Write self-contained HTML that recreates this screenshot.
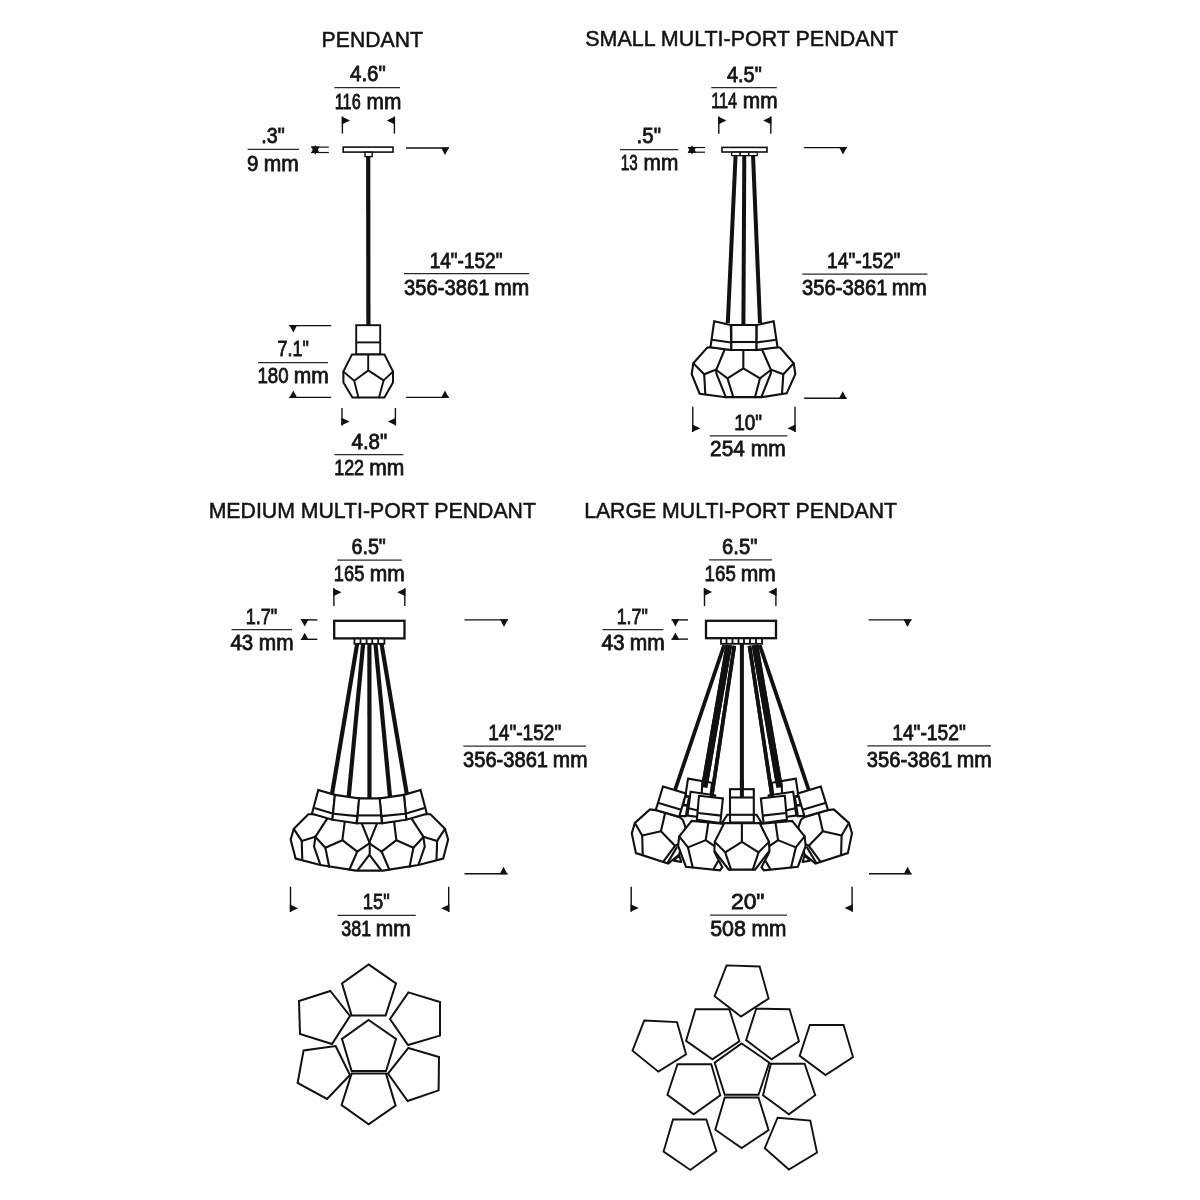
<!DOCTYPE html>
<html><head><meta charset="utf-8"><title>Pendant dimensions</title>
<style>
html,body{margin:0;padding:0;background:#fff;}
body{width:1200px;height:1200px;overflow:hidden;font-family:"Liberation Sans",sans-serif;}
svg{display:block}
text{font-family:"Liberation Sans",sans-serif;fill:#141414;}
text.d{stroke:#141414;stroke-width:.8px;}
text.t{stroke:#141414;stroke-width:.5px;}
</style></head><body>
<svg width="1200" height="1200" viewBox="0 0 1200 1200">
<rect width="1200" height="1200" fill="#fff"/>
<line x1="334.40" y1="87.60" x2="400.00" y2="87.60" stroke="#2a2a2a" stroke-width="1.25"/>
<line x1="247.60" y1="149.40" x2="299.00" y2="149.40" stroke="#2a2a2a" stroke-width="1.25"/>
<line x1="404.00" y1="273.70" x2="529.20" y2="273.70" stroke="#2a2a2a" stroke-width="1.25"/>
<line x1="258.00" y1="362.60" x2="328.00" y2="362.60" stroke="#2a2a2a" stroke-width="1.25"/>
<line x1="334.40" y1="454.60" x2="403.40" y2="454.60" stroke="#2a2a2a" stroke-width="1.25"/>
<line x1="342.40" y1="116.60" x2="342.40" y2="133.60" stroke="#111" stroke-width="1.4" stroke-linecap="butt"/>
<line x1="394.40" y1="116.60" x2="394.40" y2="133.60" stroke="#111" stroke-width="1.4" stroke-linecap="butt"/>
<polygon points="341.80,116.60 350.00,120.60 341.80,124.60" fill="#111"/>
<polygon points="395.00,116.60 386.80,120.60 395.00,124.60" fill="#111"/>
<line x1="311.30" y1="147.10" x2="328.80" y2="147.10" stroke="#111" stroke-width="1.2" stroke-linecap="butt"/>
<line x1="311.30" y1="152.50" x2="328.80" y2="152.50" stroke="#111" stroke-width="1.2" stroke-linecap="butt"/>
<polygon points="311.00,146.50 319.60,146.50 315.30,154.70" fill="#111"/>
<polygon points="311.00,153.10 319.60,153.10 315.30,144.90" fill="#111"/>
<line x1="406.00" y1="148.00" x2="449.00" y2="148.00" stroke="#111" stroke-width="1.4" stroke-linecap="butt"/>
<polygon points="441.00,147.40 449.00,147.40 445.00,155.00" fill="#111"/>
<line x1="406.00" y1="397.40" x2="449.00" y2="397.40" stroke="#111" stroke-width="1.4" stroke-linecap="butt"/>
<polygon points="441.00,398.00 449.00,398.00 445.00,390.40" fill="#111"/>
<line x1="289.30" y1="325.60" x2="331.20" y2="325.60" stroke="#111" stroke-width="1.4" stroke-linecap="butt"/>
<polygon points="289.30,325.00 297.30,325.00 293.30,332.60" fill="#111"/>
<line x1="289.30" y1="397.40" x2="331.20" y2="397.40" stroke="#111" stroke-width="1.4" stroke-linecap="butt"/>
<polygon points="289.30,398.00 297.30,398.00 293.30,390.40" fill="#111"/>
<line x1="342.00" y1="408.00" x2="342.00" y2="425.40" stroke="#111" stroke-width="1.4" stroke-linecap="butt"/>
<line x1="395.40" y1="408.00" x2="395.40" y2="425.40" stroke="#111" stroke-width="1.4" stroke-linecap="butt"/>
<polygon points="341.40,425.40 349.60,421.60 341.40,417.80" fill="#111"/>
<polygon points="396.00,425.40 387.80,421.60 396.00,417.80" fill="#111"/>
<line x1="368.20" y1="156.00" x2="368.40" y2="325.00" stroke="#111" stroke-width="4.2" stroke-linecap="butt"/>
<rect x="343.2" y="147.1" width="49.8" height="5.0" fill="#fff" stroke="#111" stroke-width="1.6"/>
<rect x="365" y="152.2" width="7.2" height="4.4" fill="#fff" stroke="#111" stroke-width="1.4"/>
<rect x="356.2" y="325.2" width="24" height="29.2" fill="#fff" stroke="#111" stroke-width="1.9"/>
<line x1="356.20" y1="342.40" x2="380.20" y2="342.40" stroke="#111" stroke-width="1.9" stroke-linecap="butt"/>
<polygon points="352.00,354.40 384.40,354.40 393.00,371.60 393.00,382.40 384.40,397.40 352.40,397.40 343.40,382.40 343.40,371.60" fill="#fff" stroke="#111" stroke-width="2.0" stroke-linejoin="miter" />
<polyline points="383.60,380.40 368.20,370.40 354.20,380.80" fill="none" stroke="#111" stroke-width="1.9" stroke-linejoin="round" stroke-linecap="round"/>
<polyline points="393.00,371.60 383.60,380.40 379.00,397.40" fill="none" stroke="#111" stroke-width="1.9" stroke-linejoin="round" stroke-linecap="round"/>
<polyline points="343.40,371.60 354.20,380.80 358.40,397.40" fill="none" stroke="#111" stroke-width="1.9" stroke-linejoin="round" stroke-linecap="round"/>
<line x1="368.20" y1="354.40" x2="368.20" y2="370.40" stroke="#111" stroke-width="1.9" stroke-linecap="butt"/>
<line x1="711.30" y1="87.50" x2="776.80" y2="87.50" stroke="#2a2a2a" stroke-width="1.25"/>
<line x1="620.00" y1="149.50" x2="678.30" y2="149.50" stroke="#2a2a2a" stroke-width="1.25"/>
<line x1="802.20" y1="274.00" x2="927.40" y2="274.00" stroke="#2a2a2a" stroke-width="1.25"/>
<line x1="709.70" y1="435.80" x2="787.50" y2="435.80" stroke="#2a2a2a" stroke-width="1.25"/>
<line x1="718.80" y1="116.50" x2="718.80" y2="133.80" stroke="#111" stroke-width="1.4" stroke-linecap="butt"/>
<line x1="770.80" y1="116.50" x2="770.80" y2="133.80" stroke="#111" stroke-width="1.4" stroke-linecap="butt"/>
<polygon points="718.20,116.50 726.40,120.50 718.20,124.50" fill="#111"/>
<polygon points="771.40,116.50 763.20,120.50 771.40,124.50" fill="#111"/>
<line x1="688.00" y1="147.50" x2="705.00" y2="147.50" stroke="#111" stroke-width="1.2" stroke-linecap="butt"/>
<line x1="688.00" y1="152.20" x2="705.00" y2="152.20" stroke="#111" stroke-width="1.2" stroke-linecap="butt"/>
<polygon points="687.70,146.90 696.30,146.90 692.00,154.40" fill="#111"/>
<polygon points="687.70,152.80 696.30,152.80 692.00,145.30" fill="#111"/>
<line x1="803.80" y1="147.60" x2="847.00" y2="147.60" stroke="#111" stroke-width="1.4" stroke-linecap="butt"/>
<polygon points="839.00,147.00 847.00,147.00 843.00,154.60" fill="#111"/>
<line x1="804.20" y1="398.30" x2="846.70" y2="398.30" stroke="#111" stroke-width="1.4" stroke-linecap="butt"/>
<polygon points="838.70,398.90 846.70,398.90 842.70,391.30" fill="#111"/>
<line x1="692.80" y1="406.70" x2="692.80" y2="432.10" stroke="#111" stroke-width="1.4" stroke-linecap="butt"/>
<line x1="795.00" y1="406.70" x2="795.00" y2="432.10" stroke="#111" stroke-width="1.4" stroke-linecap="butt"/>
<polygon points="692.20,432.10 700.40,428.30 692.20,424.50" fill="#111"/>
<polygon points="795.60,432.10 787.40,428.30 795.60,424.50" fill="#111"/>
<line x1="735.60" y1="155.00" x2="727.80" y2="323.00" stroke="#111" stroke-width="4.0" stroke-linecap="butt"/>
<line x1="744.30" y1="155.00" x2="743.40" y2="326.00" stroke="#111" stroke-width="4.0" stroke-linecap="butt"/>
<line x1="753.00" y1="155.00" x2="760.00" y2="323.00" stroke="#111" stroke-width="4.0" stroke-linecap="butt"/>
<rect x="722" y="147.4" width="45" height="4.6" fill="#fff" stroke="#111" stroke-width="1.6"/>
<rect x="731.6" y="152.2" width="8.4" height="3.4" fill="#fff" stroke="#111" stroke-width="1.3"/>
<rect x="740.2" y="152.2" width="8.4" height="3.4" fill="#fff" stroke="#111" stroke-width="1.3"/>
<rect x="748.8" y="152.2" width="8.4" height="3.4" fill="#fff" stroke="#111" stroke-width="1.3"/>
<polygon points="707.00,347.83 693.33,363.33 691.67,374.17 699.67,393.67 725.83,397.17 761.33,397.17 786.67,393.33 795.33,374.17 793.67,363.33 780.33,347.83 777.50,347.17 756.33,350.00 731.33,350.00 710.50,347.17" fill="#fff" stroke="#111" stroke-width="2.1" stroke-linejoin="miter" />
<polyline points="725.50,347.50 716.33,369.67 716.33,373.33 725.83,397.17" fill="none" stroke="#111" stroke-width="2.1" stroke-linejoin="round" stroke-linecap="round"/>
<polyline points="761.17,347.50 770.83,369.67 770.83,373.33 761.33,397.17" fill="none" stroke="#111" stroke-width="2.1" stroke-linejoin="round" stroke-linecap="round"/>
<polyline points="733.33,397.17 727.50,378.33 743.33,368.33 760.00,378.33 755.00,397.17" fill="none" stroke="#111" stroke-width="2.1" stroke-linejoin="round" stroke-linecap="round"/>
<line x1="743.33" y1="348.33" x2="743.33" y2="368.33" stroke="#111" stroke-width="2.1" stroke-linecap="butt"/>
<line x1="716.33" y1="370.00" x2="727.50" y2="378.33" stroke="#111" stroke-width="2.1" stroke-linecap="butt"/>
<line x1="770.83" y1="370.00" x2="760.00" y2="378.33" stroke="#111" stroke-width="2.1" stroke-linecap="butt"/>
<polyline points="693.33,363.33 704.17,374.17 715.83,369.67" fill="none" stroke="#111" stroke-width="2.1" stroke-linejoin="round" stroke-linecap="round"/>
<line x1="704.17" y1="374.17" x2="705.33" y2="394.17" stroke="#111" stroke-width="2.1" stroke-linecap="butt"/>
<polyline points="793.67,363.33 783.33,374.17 771.17,369.67" fill="none" stroke="#111" stroke-width="2.1" stroke-linejoin="round" stroke-linecap="round"/>
<line x1="783.33" y1="374.17" x2="782.00" y2="393.83" stroke="#111" stroke-width="2.1" stroke-linecap="butt"/>
<polygon points="714.17,321.33 730.83,325.00 731.33,350.00 710.50,347.17" fill="#fff" stroke="#111" stroke-width="2.1" stroke-linejoin="miter" />
<line x1="711.67" y1="339.67" x2="731.00" y2="342.50" stroke="#111" stroke-width="2.1" stroke-linecap="butt"/>
<polygon points="773.67,321.33 756.67,325.00 756.33,350.00 777.50,347.17" fill="#fff" stroke="#111" stroke-width="2.1" stroke-linejoin="miter" />
<line x1="776.17" y1="339.67" x2="756.50" y2="342.50" stroke="#111" stroke-width="2.1" stroke-linecap="butt"/>
<polygon points="731.33,325.00 756.33,325.00 756.33,350.00 731.33,350.00" fill="#fff" stroke="#111" stroke-width="2.1" stroke-linejoin="miter" />
<line x1="731.33" y1="342.00" x2="756.33" y2="342.00" stroke="#111" stroke-width="2.1" stroke-linecap="butt"/>
<line x1="337.30" y1="560.10" x2="401.90" y2="560.10" stroke="#2a2a2a" stroke-width="1.25"/>
<line x1="231.50" y1="629.50" x2="292.00" y2="629.50" stroke="#2a2a2a" stroke-width="1.25"/>
<line x1="463.30" y1="746.00" x2="586.00" y2="746.00" stroke="#2a2a2a" stroke-width="1.25"/>
<line x1="337.50" y1="915.30" x2="415.80" y2="915.30" stroke="#2a2a2a" stroke-width="1.25"/>
<line x1="333.90" y1="588.20" x2="333.90" y2="606.00" stroke="#111" stroke-width="1.4" stroke-linecap="butt"/>
<line x1="404.80" y1="588.20" x2="404.80" y2="606.00" stroke="#111" stroke-width="1.4" stroke-linecap="butt"/>
<polygon points="333.30,588.20 341.50,592.20 333.30,596.20" fill="#111"/>
<polygon points="405.40,588.20 397.20,592.20 405.40,596.20" fill="#111"/>
<line x1="300.80" y1="619.90" x2="317.30" y2="619.90" stroke="#111" stroke-width="1.4" stroke-linecap="butt"/>
<polygon points="300.80,619.30 308.60,619.30 304.70,626.50" fill="#111"/>
<line x1="300.80" y1="639.30" x2="317.30" y2="639.30" stroke="#111" stroke-width="1.4" stroke-linecap="butt"/>
<polygon points="300.80,639.90 308.60,639.90 304.70,632.70" fill="#111"/>
<line x1="464.50" y1="619.90" x2="508.00" y2="619.90" stroke="#111" stroke-width="1.4" stroke-linecap="butt"/>
<polygon points="500.00,619.30 508.00,619.30 504.00,626.90" fill="#111"/>
<line x1="464.50" y1="873.70" x2="507.50" y2="873.70" stroke="#111" stroke-width="1.4" stroke-linecap="butt"/>
<polygon points="499.50,874.30 507.50,874.30 503.50,866.70" fill="#111"/>
<line x1="290.50" y1="886.70" x2="290.50" y2="912.10" stroke="#111" stroke-width="1.4" stroke-linecap="butt"/>
<line x1="448.70" y1="886.70" x2="448.70" y2="912.10" stroke="#111" stroke-width="1.4" stroke-linecap="butt"/>
<polygon points="289.90,912.10 298.10,908.30 289.90,904.50" fill="#111"/>
<polygon points="449.30,912.10 441.10,908.30 449.30,904.50" fill="#111"/>
<line x1="357.30" y1="643.00" x2="332.00" y2="794.00" stroke="#111" stroke-width="4.2" stroke-linecap="butt"/>
<line x1="363.20" y1="643.00" x2="348.70" y2="797.00" stroke="#111" stroke-width="4.2" stroke-linecap="butt"/>
<line x1="369.40" y1="643.00" x2="369.50" y2="800.00" stroke="#111" stroke-width="4.2" stroke-linecap="butt"/>
<line x1="375.40" y1="643.00" x2="390.00" y2="797.00" stroke="#111" stroke-width="4.2" stroke-linecap="butt"/>
<line x1="381.40" y1="643.00" x2="406.80" y2="794.00" stroke="#111" stroke-width="4.2" stroke-linecap="butt"/>
<rect x="334.2" y="620.8" width="70.3" height="17.6" fill="#fff" stroke="#111" stroke-width="2.3"/>
<rect x="354.4" y="638.6" width="30" height="5.2" fill="#fff" stroke="#111" stroke-width="1.8"/>
<line x1="360.50" y1="638.60" x2="360.50" y2="643.80" stroke="#111" stroke-width="1.8" stroke-linecap="butt"/>
<line x1="366.60" y1="638.60" x2="366.60" y2="643.80" stroke="#111" stroke-width="1.8" stroke-linecap="butt"/>
<line x1="372.20" y1="638.60" x2="372.20" y2="643.80" stroke="#111" stroke-width="1.8" stroke-linecap="butt"/>
<line x1="378.20" y1="638.60" x2="378.20" y2="643.80" stroke="#111" stroke-width="1.8" stroke-linecap="butt"/>
<polygon points="308.37,814.28 293.78,828.87 290.67,839.50 295.62,858.62 320.42,865.00 355.83,870.66 382.97,870.66 418.38,865.00 443.18,858.62 448.13,839.50 445.02,828.87 430.43,814.28" fill="#fff" stroke="#111" stroke-width="2.1" stroke-linejoin="miter" />
<polyline points="293.78,828.87 301.72,840.92 315.46,836.67" fill="none" stroke="#111" stroke-width="2.1" stroke-linejoin="round" stroke-linecap="round"/>
<line x1="301.72" y1="840.92" x2="302.28" y2="859.76" stroke="#111" stroke-width="2.1" stroke-linecap="butt"/>
<line x1="315.46" y1="836.67" x2="328.21" y2="817.12" stroke="#111" stroke-width="2.1" stroke-linecap="butt"/>
<polyline points="315.46,836.67 314.04,846.58 320.42,865.00" fill="none" stroke="#111" stroke-width="2.1" stroke-linejoin="round" stroke-linecap="round"/>
<polyline points="315.46,836.95 325.37,847.71 329.20,866.70" fill="none" stroke="#111" stroke-width="2.1" stroke-linejoin="round" stroke-linecap="round"/>
<polyline points="325.37,847.71 342.37,840.21 357.25,851.54 349.46,869.53" fill="none" stroke="#111" stroke-width="2.1" stroke-linejoin="round" stroke-linecap="round"/>
<line x1="342.37" y1="840.21" x2="345.07" y2="818.96" stroke="#111" stroke-width="2.1" stroke-linecap="butt"/>
<line x1="357.25" y1="851.54" x2="369.71" y2="843.04" stroke="#111" stroke-width="2.1" stroke-linecap="butt"/>
<line x1="360.22" y1="819.67" x2="369.71" y2="843.04" stroke="#111" stroke-width="2.1" stroke-linecap="butt"/>
<line x1="369.71" y1="854.37" x2="357.53" y2="870.38" stroke="#111" stroke-width="2.1" stroke-linecap="butt"/>
<polyline points="445.02,828.87 437.08,840.92 423.34,836.67" fill="none" stroke="#111" stroke-width="2.1" stroke-linejoin="round" stroke-linecap="round"/>
<line x1="437.08" y1="840.92" x2="436.52" y2="859.76" stroke="#111" stroke-width="2.1" stroke-linecap="butt"/>
<line x1="423.34" y1="836.67" x2="410.59" y2="817.12" stroke="#111" stroke-width="2.1" stroke-linecap="butt"/>
<polyline points="423.34,836.67 424.76,846.58 418.38,865.00" fill="none" stroke="#111" stroke-width="2.1" stroke-linejoin="round" stroke-linecap="round"/>
<polyline points="423.34,836.95 413.43,847.71 409.60,866.70" fill="none" stroke="#111" stroke-width="2.1" stroke-linejoin="round" stroke-linecap="round"/>
<polyline points="413.43,847.71 396.43,840.21 381.55,851.54 389.34,869.53" fill="none" stroke="#111" stroke-width="2.1" stroke-linejoin="round" stroke-linecap="round"/>
<line x1="396.43" y1="840.21" x2="393.73" y2="818.96" stroke="#111" stroke-width="2.1" stroke-linecap="butt"/>
<line x1="381.55" y1="851.54" x2="369.09" y2="843.04" stroke="#111" stroke-width="2.1" stroke-linecap="butt"/>
<line x1="378.58" y1="819.67" x2="369.09" y2="843.04" stroke="#111" stroke-width="2.1" stroke-linecap="butt"/>
<line x1="369.09" y1="854.37" x2="381.27" y2="870.38" stroke="#111" stroke-width="2.1" stroke-linecap="butt"/>
<line x1="369.71" y1="843.04" x2="369.71" y2="854.37" stroke="#111" stroke-width="2.1" stroke-linecap="butt"/>
<polygon points="318.29,789.92 334.87,794.87 332.46,819.67 311.92,813.72" fill="#fff" stroke="#111" stroke-width="2.1" stroke-linejoin="miter" />
<line x1="314.32" y1="808.05" x2="333.45" y2="813.72" stroke="#111" stroke-width="2.1" stroke-linecap="butt"/>
<polygon points="334.87,794.87 359.37,798.42 356.54,823.21 332.46,819.67" fill="#fff" stroke="#111" stroke-width="2.1" stroke-linejoin="miter" />
<line x1="333.45" y1="813.72" x2="357.53" y2="816.12" stroke="#111" stroke-width="2.1" stroke-linecap="butt"/>
<polygon points="420.51,789.92 403.93,794.87 406.34,819.67 426.88,813.72" fill="#fff" stroke="#111" stroke-width="2.1" stroke-linejoin="miter" />
<line x1="424.48" y1="808.05" x2="405.35" y2="813.72" stroke="#111" stroke-width="2.1" stroke-linecap="butt"/>
<polygon points="403.93,794.87 379.43,798.42 382.26,823.21 406.34,819.67" fill="#fff" stroke="#111" stroke-width="2.1" stroke-linejoin="miter" />
<line x1="405.35" y1="813.72" x2="381.27" y2="816.12" stroke="#111" stroke-width="2.1" stroke-linecap="butt"/>
<polygon points="359.09,798.42 379.71,798.42 381.84,823.21 356.96,823.21" fill="#fff" stroke="#111" stroke-width="2.1" stroke-linejoin="miter" />
<line x1="357.53" y1="815.42" x2="381.27" y2="815.42" stroke="#111" stroke-width="2.1" stroke-linecap="butt"/>
<line x1="709.00" y1="559.90" x2="772.00" y2="559.90" stroke="#2a2a2a" stroke-width="1.25"/>
<line x1="602.50" y1="629.50" x2="663.40" y2="629.50" stroke="#2a2a2a" stroke-width="1.25"/>
<line x1="867.30" y1="745.90" x2="990.90" y2="745.90" stroke="#2a2a2a" stroke-width="1.25"/>
<line x1="710.00" y1="915.00" x2="787.00" y2="915.00" stroke="#2a2a2a" stroke-width="1.25"/>
<line x1="704.50" y1="588.00" x2="704.50" y2="606.10" stroke="#111" stroke-width="1.4" stroke-linecap="butt"/>
<line x1="775.90" y1="588.00" x2="775.90" y2="606.10" stroke="#111" stroke-width="1.4" stroke-linecap="butt"/>
<polygon points="703.90,588.00 712.10,592.00 703.90,596.00" fill="#111"/>
<polygon points="776.50,588.00 768.30,592.00 776.50,596.00" fill="#111"/>
<line x1="671.50" y1="619.90" x2="688.00" y2="619.90" stroke="#111" stroke-width="1.4" stroke-linecap="butt"/>
<polygon points="671.50,619.30 679.30,619.30 675.40,626.50" fill="#111"/>
<line x1="671.50" y1="639.10" x2="688.00" y2="639.10" stroke="#111" stroke-width="1.4" stroke-linecap="butt"/>
<polygon points="671.50,639.70 679.30,639.70 675.40,632.50" fill="#111"/>
<line x1="868.60" y1="619.90" x2="911.50" y2="619.90" stroke="#111" stroke-width="1.4" stroke-linecap="butt"/>
<polygon points="903.50,619.30 911.50,619.30 907.50,626.90" fill="#111"/>
<line x1="869.00" y1="873.70" x2="911.60" y2="873.70" stroke="#111" stroke-width="1.4" stroke-linecap="butt"/>
<polygon points="903.60,874.30 911.60,874.30 907.60,866.70" fill="#111"/>
<line x1="631.20" y1="886.70" x2="631.20" y2="911.80" stroke="#111" stroke-width="1.4" stroke-linecap="butt"/>
<line x1="852.10" y1="886.70" x2="852.10" y2="911.80" stroke="#111" stroke-width="1.4" stroke-linecap="butt"/>
<polygon points="630.60,911.80 638.80,908.00 630.60,904.20" fill="#111"/>
<polygon points="852.70,911.80 844.50,908.00 852.70,904.20" fill="#111"/>
<line x1="724.17" y1="645.00" x2="673.33" y2="795.00" stroke="#111" stroke-width="3.8" stroke-linecap="butt"/>
<line x1="759.63" y1="645.00" x2="810.47" y2="795.00" stroke="#111" stroke-width="3.8" stroke-linecap="butt"/>
<line x1="728.83" y1="645.00" x2="704.17" y2="787.50" stroke="#111" stroke-width="6.6" stroke-linecap="butt"/>
<line x1="754.97" y1="645.00" x2="779.63" y2="787.50" stroke="#111" stroke-width="6.6" stroke-linecap="butt"/>
<line x1="734.33" y1="645.83" x2="710.83" y2="802.50" stroke="#111" stroke-width="3.6" stroke-linecap="butt"/>
<line x1="749.47" y1="645.83" x2="772.97" y2="802.50" stroke="#111" stroke-width="3.6" stroke-linecap="butt"/>
<line x1="741.90" y1="644.00" x2="741.90" y2="797.00" stroke="#111" stroke-width="4.0" stroke-linecap="butt"/>
<rect x="706" y="620.8" width="70" height="17.4" fill="#fff" stroke="#111" stroke-width="2.3"/>
<rect x="721" y="638.4" width="41" height="5.4" fill="#fff" stroke="#111" stroke-width="1.8"/>
<line x1="726.50" y1="638.40" x2="726.50" y2="643.80" stroke="#111" stroke-width="1.8" stroke-linecap="butt"/>
<line x1="732.50" y1="638.40" x2="732.50" y2="643.80" stroke="#111" stroke-width="1.8" stroke-linecap="butt"/>
<line x1="738.50" y1="638.40" x2="738.50" y2="643.80" stroke="#111" stroke-width="1.8" stroke-linecap="butt"/>
<line x1="744.00" y1="638.40" x2="744.00" y2="643.80" stroke="#111" stroke-width="1.8" stroke-linecap="butt"/>
<line x1="750.00" y1="638.40" x2="750.00" y2="643.80" stroke="#111" stroke-width="1.8" stroke-linecap="butt"/>
<line x1="756.00" y1="638.40" x2="756.00" y2="643.80" stroke="#111" stroke-width="1.8" stroke-linecap="butt"/>
<polygon points="688.02,778.65 711.98,782.81 709.90,801.04 685.42,795.83" fill="#fff" stroke="#111" stroke-width="2.1" stroke-linejoin="miter" />
<line x1="702.60" y1="781.46" x2="701.56" y2="793.75" stroke="#111" stroke-width="2.1" stroke-linecap="butt"/>
<polygon points="690.62,791.67 715.10,795.31 713.54,818.75 687.50,815.62" fill="#fff" stroke="#111" stroke-width="2.1" stroke-linejoin="miter" />
<line x1="688.54" y1="808.33" x2="697.92" y2="810.42" stroke="#111" stroke-width="2.1" stroke-linecap="butt"/>
<polygon points="684.90,796.35 689.06,796.88 687.50,805.21 683.33,804.69" fill="#fff" stroke="#111" stroke-width="2.1" stroke-linejoin="miter" />
<polygon points="681.77,805.21 687.50,805.42 685.94,816.15 679.17,816.15" fill="#fff" stroke="#111" stroke-width="2.1" stroke-linejoin="miter" />
<polygon points="795.78,778.65 771.82,782.81 773.90,801.04 798.38,795.83" fill="#fff" stroke="#111" stroke-width="2.1" stroke-linejoin="miter" />
<line x1="781.20" y1="781.46" x2="782.24" y2="793.75" stroke="#111" stroke-width="2.1" stroke-linecap="butt"/>
<polygon points="793.18,791.67 768.70,795.31 770.26,818.75 796.30,815.62" fill="#fff" stroke="#111" stroke-width="2.1" stroke-linejoin="miter" />
<line x1="795.26" y1="808.33" x2="785.88" y2="810.42" stroke="#111" stroke-width="2.1" stroke-linecap="butt"/>
<polygon points="798.90,796.35 794.74,796.88 796.30,805.21 800.47,804.69" fill="#fff" stroke="#111" stroke-width="2.1" stroke-linejoin="miter" />
<polygon points="802.03,805.21 796.30,805.42 797.86,816.15 804.63,816.15" fill="#fff" stroke="#111" stroke-width="2.1" stroke-linejoin="miter" />
<line x1="728.83" y1="645.00" x2="704.17" y2="787.50" stroke="#111" stroke-width="6.6" stroke-linecap="butt"/>
<line x1="754.97" y1="645.00" x2="779.63" y2="787.50" stroke="#111" stroke-width="6.6" stroke-linecap="butt"/>
<line x1="734.33" y1="645.83" x2="710.83" y2="802.50" stroke="#111" stroke-width="3.6" stroke-linecap="butt"/>
<line x1="749.47" y1="645.83" x2="772.97" y2="802.50" stroke="#111" stroke-width="3.6" stroke-linecap="butt"/>
<polygon points="650.00,809.38 634.90,822.92 631.77,833.33 635.94,853.12 668.23,863.54 679.17,854.69 685.42,827.08 682.81,819.79 679.17,816.88 655.73,810.10" fill="#fff" stroke="#111" stroke-width="2.1" stroke-linejoin="miter" />
<polyline points="634.90,822.92 642.19,835.42 642.71,854.69" fill="none" stroke="#111" stroke-width="2.1" stroke-linejoin="round" stroke-linecap="round"/>
<polyline points="642.19,835.42 660.94,831.25 675.00,845.83 663.33,861.67" fill="none" stroke="#111" stroke-width="2.1" stroke-linejoin="round" stroke-linecap="round"/>
<line x1="660.94" y1="831.25" x2="665.10" y2="813.02" stroke="#111" stroke-width="2.1" stroke-linecap="butt"/>
<line x1="677.08" y1="846.88" x2="667.50" y2="863.02" stroke="#111" stroke-width="2.1" stroke-linecap="butt"/>
<line x1="675.00" y1="845.83" x2="678.65" y2="844.27" stroke="#111" stroke-width="2.1" stroke-linecap="butt"/>
<polyline points="673.96,860.62 679.17,855.21 681.25,861.98 673.96,860.62" fill="none" stroke="#111" stroke-width="2.1" stroke-linejoin="round" stroke-linecap="round"/>
<polygon points="833.80,809.38 848.90,822.92 852.03,833.33 847.86,853.12 815.57,863.54 804.63,854.69 798.38,827.08 800.99,819.79 804.63,816.88 828.07,810.10" fill="#fff" stroke="#111" stroke-width="2.1" stroke-linejoin="miter" />
<polyline points="848.90,822.92 841.61,835.42 841.09,854.69" fill="none" stroke="#111" stroke-width="2.1" stroke-linejoin="round" stroke-linecap="round"/>
<polyline points="841.61,835.42 822.86,831.25 808.80,845.83 820.47,861.67" fill="none" stroke="#111" stroke-width="2.1" stroke-linejoin="round" stroke-linecap="round"/>
<line x1="822.86" y1="831.25" x2="818.70" y2="813.02" stroke="#111" stroke-width="2.1" stroke-linecap="butt"/>
<line x1="806.72" y1="846.88" x2="816.30" y2="863.02" stroke="#111" stroke-width="2.1" stroke-linecap="butt"/>
<line x1="808.80" y1="845.83" x2="805.15" y2="844.27" stroke="#111" stroke-width="2.1" stroke-linecap="butt"/>
<polyline points="809.84,860.62 804.63,855.21 802.55,861.98 809.84,860.62" fill="none" stroke="#111" stroke-width="2.1" stroke-linejoin="round" stroke-linecap="round"/>
<polygon points="663.02,786.46 685.94,793.54 679.17,816.88 655.73,810.10" fill="#fff" stroke="#111" stroke-width="2.1" stroke-linejoin="miter" />
<line x1="658.54" y1="802.92" x2="681.25" y2="809.69" stroke="#111" stroke-width="2.1" stroke-linecap="butt"/>
<polygon points="820.78,786.46 797.86,793.54 804.63,816.88 828.07,810.10" fill="#fff" stroke="#111" stroke-width="2.1" stroke-linejoin="miter" />
<line x1="825.26" y1="802.92" x2="802.55" y2="809.69" stroke="#111" stroke-width="2.1" stroke-linecap="butt"/>
<polygon points="691.67,820.83 679.17,836.46 678.12,845.83 685.94,866.67 720.00,870.31 722.29,867.19 714.58,852.29 725.00,823.96" fill="#fff" stroke="#111" stroke-width="2.1" stroke-linejoin="miter" />
<polyline points="679.17,836.46 688.02,847.40 692.71,867.50" fill="none" stroke="#111" stroke-width="2.1" stroke-linejoin="round" stroke-linecap="round"/>
<polyline points="688.02,847.40 705.73,840.10 715.62,846.88" fill="none" stroke="#111" stroke-width="2.1" stroke-linejoin="round" stroke-linecap="round"/>
<line x1="705.73" y1="840.10" x2="708.33" y2="822.40" stroke="#111" stroke-width="2.1" stroke-linecap="butt"/>
<line x1="718.44" y1="860.62" x2="713.54" y2="869.06" stroke="#111" stroke-width="2.1" stroke-linecap="butt"/>
<polygon points="792.13,820.83 804.63,836.46 805.68,845.83 797.86,866.67 763.80,870.31 761.51,867.19 769.22,852.29 758.80,823.96" fill="#fff" stroke="#111" stroke-width="2.1" stroke-linejoin="miter" />
<polyline points="804.63,836.46 795.78,847.40 791.09,867.50" fill="none" stroke="#111" stroke-width="2.1" stroke-linejoin="round" stroke-linecap="round"/>
<polyline points="795.78,847.40 778.07,840.10 768.18,846.88" fill="none" stroke="#111" stroke-width="2.1" stroke-linejoin="round" stroke-linecap="round"/>
<line x1="778.07" y1="840.10" x2="775.47" y2="822.40" stroke="#111" stroke-width="2.1" stroke-linecap="butt"/>
<line x1="765.36" y1="860.62" x2="770.26" y2="869.06" stroke="#111" stroke-width="2.1" stroke-linecap="butt"/>
<polygon points="698.96,795.83 722.92,798.44 720.31,822.92 696.88,819.79" fill="#fff" stroke="#111" stroke-width="2.1" stroke-linejoin="miter" />
<line x1="697.92" y1="813.02" x2="721.35" y2="815.62" stroke="#111" stroke-width="2.1" stroke-linecap="butt"/>
<polygon points="784.84,795.83 760.88,798.44 763.49,822.92 786.92,819.79" fill="#fff" stroke="#111" stroke-width="2.1" stroke-linejoin="miter" />
<line x1="785.88" y1="813.02" x2="762.45" y2="815.62" stroke="#111" stroke-width="2.1" stroke-linecap="butt"/>
<polygon points="722.08,823.12 727.29,814.79 756.51,814.79 761.72,823.12" fill="#fff" stroke="#111" stroke-width="2.1" stroke-linejoin="miter" />
<polygon points="724.17,823.12 714.79,841.88 714.38,850.83 728.75,869.58 755.05,869.58 769.42,850.83 769.01,841.88 759.63,823.12" fill="#fff" stroke="#111" stroke-width="2.1" stroke-linejoin="miter" />
<polyline points="714.79,841.88 725.21,852.29 731.04,869.58" fill="none" stroke="#111" stroke-width="2.1" stroke-linejoin="round" stroke-linecap="round"/>
<line x1="725.21" y1="852.29" x2="741.90" y2="841.88" stroke="#111" stroke-width="2.1" stroke-linecap="butt"/>
<polyline points="769.01,841.88 758.59,852.29 752.76,869.58" fill="none" stroke="#111" stroke-width="2.1" stroke-linejoin="round" stroke-linecap="round"/>
<line x1="758.59" y1="852.29" x2="741.90" y2="841.88" stroke="#111" stroke-width="2.1" stroke-linecap="butt"/>
<line x1="741.90" y1="823.12" x2="741.90" y2="841.88" stroke="#111" stroke-width="2.1" stroke-linecap="butt"/>
<rect x="730.0" y="789.17" width="23.80" height="33.33" fill="#fff" stroke="#111" stroke-width="2.1"/>
<line x1="730.00" y1="797.50" x2="753.80" y2="797.50" stroke="#111" stroke-width="2.1" stroke-linecap="butt"/>
<line x1="730.00" y1="814.79" x2="753.80" y2="814.79" stroke="#111" stroke-width="2.1" stroke-linecap="butt"/>
<line x1="741.90" y1="780.00" x2="741.90" y2="797.50" stroke="#111" stroke-width="4.0" stroke-linecap="butt"/>
<polygon points="368.60,1020.00 396.00,1039.00 386.00,1071.00 351.60,1071.00 342.00,1039.00" fill="none" stroke="#111" stroke-width="2.0" stroke-linejoin="miter"/>
<polygon points="368.60,964.40 396.00,983.40 385.60,1015.60 351.60,1015.60 342.00,983.40" fill="none" stroke="#111" stroke-width="2.0" stroke-linejoin="miter"/>
<polygon points="330.40,991.00 350.00,1016.00 332.00,1044.00 300.00,1034.00 299.00,1001.00" fill="none" stroke="#111" stroke-width="2.0" stroke-linejoin="miter"/>
<polygon points="408.40,992.40 440.00,1002.00 440.00,1035.60 408.00,1045.00 390.00,1019.00" fill="none" stroke="#111" stroke-width="2.0" stroke-linejoin="miter"/>
<polygon points="335.60,1046.00 350.00,1075.00 327.00,1099.00 297.60,1083.00 303.60,1050.40" fill="none" stroke="#111" stroke-width="2.0" stroke-linejoin="miter"/>
<polygon points="408.40,1048.00 439.00,1057.00 438.60,1090.40 407.60,1101.00 388.00,1073.60" fill="none" stroke="#111" stroke-width="2.0" stroke-linejoin="miter"/>
<polygon points="351.60,1073.60 386.00,1073.60 395.60,1105.60 368.60,1124.40 341.60,1105.00" fill="none" stroke="#111" stroke-width="2.0" stroke-linejoin="miter"/>
<polygon points="741.62,1043.50 769.30,1062.62 758.50,1094.80 724.75,1094.80 714.62,1062.62" fill="none" stroke="#111" stroke-width="1.9" stroke-linejoin="miter"/>
<polygon points="695.50,1009.30 729.25,1009.30 739.38,1041.25 712.38,1059.25 686.05,1040.80" fill="none" stroke="#111" stroke-width="1.9" stroke-linejoin="miter"/>
<polygon points="756.25,1008.62 789.55,1009.30 799.00,1041.25 771.55,1059.25 746.12,1040.12" fill="none" stroke="#111" stroke-width="1.9" stroke-linejoin="miter"/>
<polygon points="770.88,1063.75 804.62,1063.75 815.20,1095.25 788.88,1114.38 763.00,1095.25" fill="none" stroke="#111" stroke-width="1.9" stroke-linejoin="miter"/>
<polygon points="724.75,1097.50 758.50,1097.50 768.62,1130.12 741.62,1148.12 715.30,1129.67" fill="none" stroke="#111" stroke-width="1.9" stroke-linejoin="miter"/>
<polygon points="677.50,1064.20 711.25,1064.20 720.25,1095.25 693.70,1114.38 667.38,1094.80" fill="none" stroke="#111" stroke-width="1.9" stroke-linejoin="miter"/>
<polygon points="726.55,965.42 759.62,966.55 768.62,998.50 740.95,1016.50 714.62,996.25" fill="none" stroke="#111" stroke-width="1.9" stroke-linejoin="miter"/>
<polygon points="809.80,1025.05 843.55,1025.05 853.00,1057.00 825.55,1075.00 799.67,1055.88" fill="none" stroke="#111" stroke-width="1.9" stroke-linejoin="miter"/>
<polygon points="777.62,1117.75 810.25,1120.67 817.00,1152.62 788.88,1169.50 764.80,1148.12" fill="none" stroke="#111" stroke-width="1.9" stroke-linejoin="miter"/>
<polygon points="673.00,1119.55 706.30,1119.55 716.42,1151.05 690.33,1169.95 663.55,1151.50" fill="none" stroke="#111" stroke-width="1.9" stroke-linejoin="miter"/>
<polygon points="644.20,1020.55 677.05,1022.12 686.05,1054.30 658.38,1071.62 632.50,1050.70" fill="none" stroke="#111" stroke-width="1.9" stroke-linejoin="miter"/>
<defs><filter id="g" x="0" y="0" width="1200" height="1200" filterUnits="userSpaceOnUse"><feColorMatrix type="saturate" values="0"/></filter></defs>
<g filter="url(#g)">
<text class="t" x="321.61" y="46.50" font-size="21.2" textLength="101.37" lengthAdjust="spacingAndGlyphs">PENDANT</text>
<text class="t" x="585.21" y="46.30" font-size="21.2" textLength="312.87" lengthAdjust="spacingAndGlyphs">SMALL MULTI-PORT PENDANT</text>
<text class="t" x="208.65" y="517.80" font-size="21.2" textLength="327.28" lengthAdjust="spacingAndGlyphs">MEDIUM MULTI-PORT PENDANT</text>
<text class="t" x="584.13" y="518.00" font-size="21.2" textLength="312.99" lengthAdjust="spacingAndGlyphs">LARGE MULTI-PORT PENDANT</text>
<text class="d" x="349.99" y="81.40" font-size="22" textLength="35.79" lengthAdjust="spacingAndGlyphs">4.6&quot;</text>
<text class="d" x="334.81" y="108.80" font-size="22" textLength="25.88" lengthAdjust="spacingAndGlyphs">116</text>
<text class="d" x="366.60" y="108.80" font-size="22" textLength="34.80" lengthAdjust="spacingAndGlyphs">mm</text>
<text class="d" x="261.34" y="143.00" font-size="22" textLength="23.42" lengthAdjust="spacingAndGlyphs">.3&quot;</text>
<text class="d" x="247.09" y="170.80" font-size="22" textLength="11.43" lengthAdjust="spacingAndGlyphs">9</text>
<text class="d" x="263.84" y="170.80" font-size="22" textLength="35.01" lengthAdjust="spacingAndGlyphs">mm</text>
<text class="d" x="429.73" y="268.10" font-size="22" textLength="72.70" lengthAdjust="spacingAndGlyphs">14&quot;-152&quot;</text>
<text class="d" x="403.96" y="294.60" font-size="22" textLength="85.66" lengthAdjust="spacingAndGlyphs">356-3861</text>
<text class="d" x="494.20" y="294.60" font-size="22" textLength="34.95" lengthAdjust="spacingAndGlyphs">mm</text>
<text class="d" x="277.60" y="356.40" font-size="22" textLength="31.20" lengthAdjust="spacingAndGlyphs">7.1&quot;</text>
<text class="d" x="257.41" y="383.40" font-size="22" textLength="31.21" lengthAdjust="spacingAndGlyphs">180</text>
<text class="d" x="293.84" y="383.40" font-size="22" textLength="35.01" lengthAdjust="spacingAndGlyphs">mm</text>
<text class="d" x="351.54" y="448.80" font-size="22" textLength="35.76" lengthAdjust="spacingAndGlyphs">4.8&quot;</text>
<text class="d" x="334.20" y="475.40" font-size="22" textLength="29.89" lengthAdjust="spacingAndGlyphs">122</text>
<text class="d" x="369.23" y="475.40" font-size="22" textLength="35.09" lengthAdjust="spacingAndGlyphs">mm</text>
<text class="d" x="726.99" y="82.10" font-size="22" textLength="34.83" lengthAdjust="spacingAndGlyphs">4.5&quot;</text>
<text class="d" x="711.21" y="108.40" font-size="22" textLength="25.92" lengthAdjust="spacingAndGlyphs">114</text>
<text class="d" x="742.80" y="108.40" font-size="22" textLength="34.80" lengthAdjust="spacingAndGlyphs">mm</text>
<text class="d" x="636.58" y="143.40" font-size="22" textLength="24.38" lengthAdjust="spacingAndGlyphs">.5&quot;</text>
<text class="d" x="620.76" y="170.40" font-size="22" textLength="16.96" lengthAdjust="spacingAndGlyphs">13</text>
<text class="d" x="643.50" y="170.40" font-size="22" textLength="34.80" lengthAdjust="spacingAndGlyphs">mm</text>
<text class="d" x="827.07" y="268.20" font-size="22" textLength="73.34" lengthAdjust="spacingAndGlyphs">14&quot;-152&quot;</text>
<text class="d" x="801.90" y="294.80" font-size="22" textLength="85.70" lengthAdjust="spacingAndGlyphs">356-3861</text>
<text class="d" x="891.84" y="294.80" font-size="22" textLength="35.01" lengthAdjust="spacingAndGlyphs">mm</text>
<text class="d" x="734.21" y="429.60" font-size="22" textLength="27.89" lengthAdjust="spacingAndGlyphs">10&quot;</text>
<text class="d" x="710.09" y="456.20" font-size="22" textLength="34.70" lengthAdjust="spacingAndGlyphs">254</text>
<text class="d" x="750.84" y="456.20" font-size="22" textLength="35.01" lengthAdjust="spacingAndGlyphs">mm</text>
<text class="d" x="351.41" y="554.40" font-size="22" textLength="34.49" lengthAdjust="spacingAndGlyphs">6.5&quot;</text>
<text class="d" x="333.87" y="581.10" font-size="22" textLength="30.52" lengthAdjust="spacingAndGlyphs">165</text>
<text class="d" x="369.84" y="581.10" font-size="22" textLength="35.01" lengthAdjust="spacingAndGlyphs">mm</text>
<text class="d" x="245.66" y="623.70" font-size="22" textLength="31.59" lengthAdjust="spacingAndGlyphs">1.7&quot;</text>
<text class="d" x="230.46" y="650.40" font-size="22" textLength="22.77" lengthAdjust="spacingAndGlyphs">43</text>
<text class="d" x="258.80" y="650.40" font-size="22" textLength="34.80" lengthAdjust="spacingAndGlyphs">mm</text>
<text class="d" x="488.25" y="740.40" font-size="22" textLength="72.97" lengthAdjust="spacingAndGlyphs">14&quot;-152&quot;</text>
<text class="d" x="463.01" y="767.10" font-size="22" textLength="85.06" lengthAdjust="spacingAndGlyphs">356-3861</text>
<text class="d" x="552.85" y="767.10" font-size="22" textLength="34.65" lengthAdjust="spacingAndGlyphs">mm</text>
<text class="d" x="362.85" y="909.20" font-size="22" textLength="26.88" lengthAdjust="spacingAndGlyphs">15&quot;</text>
<text class="d" x="341.27" y="936.20" font-size="22" textLength="29.82" lengthAdjust="spacingAndGlyphs">381</text>
<text class="d" x="375.84" y="936.20" font-size="22" textLength="35.01" lengthAdjust="spacingAndGlyphs">mm</text>
<text class="d" x="722.11" y="554.30" font-size="22" textLength="35.30" lengthAdjust="spacingAndGlyphs">6.5&quot;</text>
<text class="d" x="704.60" y="581.00" font-size="22" textLength="31.20" lengthAdjust="spacingAndGlyphs">165</text>
<text class="d" x="740.84" y="581.00" font-size="22" textLength="35.01" lengthAdjust="spacingAndGlyphs">mm</text>
<text class="d" x="616.63" y="623.90" font-size="22" textLength="31.19" lengthAdjust="spacingAndGlyphs">1.7&quot;</text>
<text class="d" x="601.39" y="650.30" font-size="22" textLength="23.11" lengthAdjust="spacingAndGlyphs">43</text>
<text class="d" x="629.84" y="650.30" font-size="22" textLength="35.01" lengthAdjust="spacingAndGlyphs">mm</text>
<text class="d" x="892.20" y="740.00" font-size="22" textLength="73.54" lengthAdjust="spacingAndGlyphs">14&quot;-152&quot;</text>
<text class="d" x="866.77" y="767.20" font-size="22" textLength="85.35" lengthAdjust="spacingAndGlyphs">356-3861</text>
<text class="d" x="956.66" y="767.20" font-size="22" textLength="35.01" lengthAdjust="spacingAndGlyphs">mm</text>
<text class="d" x="730.90" y="909.00" font-size="22" textLength="33.60" lengthAdjust="spacingAndGlyphs">20&quot;</text>
<text class="d" x="710.13" y="935.90" font-size="22" textLength="35.64" lengthAdjust="spacingAndGlyphs">508</text>
<text class="d" x="751.60" y="935.90" font-size="22" textLength="34.80" lengthAdjust="spacingAndGlyphs">mm</text>
</g>
</svg>
</body></html>
